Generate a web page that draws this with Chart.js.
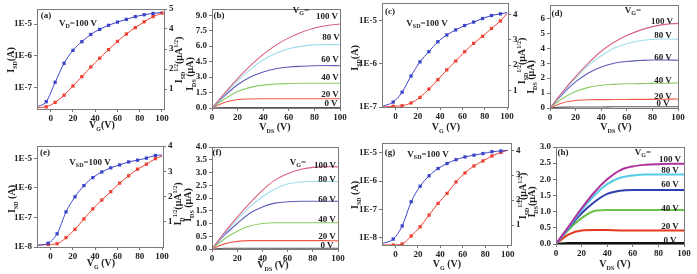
<!DOCTYPE html>
<html>
<head>
<meta charset="utf-8">
<script src="https://cdn.jsdelivr.net/npm/chart.js@4.4.1/dist/chart.umd.min.js"></script>
<style>
  body { margin: 0; width: 697px; height: 274px; background: #fff; position: relative; overflow: hidden; font-family: 'Liberation Serif', 'DejaVu Serif', serif; }
  canvas { position: absolute; }
  .lb { position: absolute; transform: translate(-50%, -50%); font-size: 9px; font-weight: bold; color: #222; white-space: nowrap; line-height: 1; z-index: 5; }
  .lb.rot { transform: translate(-50%, -50%) rotate(-90deg); }
  .lb.ttl { font-size: 10px; }
  .lb sub, .lb sup { font-size: 6px; line-height: 0; }
</style>
</head>
<body>
<canvas id="pa"></canvas>
<canvas id="pb"></canvas>
<canvas id="pc"></canvas>
<canvas id="pd"></canvas>
<canvas id="pe"></canvas>
<canvas id="pf"></canvas>
<canvas id="pg"></canvas>
<canvas id="ph"></canvas>

<!-- (a) -->
<div class="lb" style="left:46px;top:15px">(a)</div>
<div class="lb" style="left:78px;top:23px">V<sub>D</sub>=100 V</div>
<div class="lb ttl rot" style="left:11px;top:60px">I<sub>SD</sub>(A)</div>
<div class="lb ttl rot" style="left:179px;top:60px">I<sub>SD</sub><sup>1/2</sup>(μA<sup>1/2</sup>)</div>
<div class="lb ttl" style="left:102px;top:125px">V<sub>G</sub>(V)</div>
<!-- (b) -->
<div class="lb" style="left:219px;top:15px">(b)</div>
<div class="lb ttl rot" style="left:190px;top:74px">I<sub>DS</sub> (μA)</div>
<div class="lb" style="left:301px;top:10px">V<sub>G</sub>=</div>
<div class="lb" style="left:327px;top:16px">100 V</div>
<div class="lb" style="left:331px;top:37px">80 V</div>
<div class="lb" style="left:330px;top:59px">60 V</div>
<div class="lb" style="left:330px;top:77px">40 V</div>
<div class="lb" style="left:330px;top:94px">20 V</div>
<div class="lb" style="left:331px;top:103px">0 V</div>
<div class="lb ttl" style="left:275px;top:127px">V<sub>DS</sub> (V)</div>
<!-- (c) -->
<div class="lb" style="left:390px;top:11px">(c)</div>
<div class="lb" style="left:427px;top:23px">V<sub>SD</sub>=100 V</div>
<div class="lb ttl rot" style="left:355px;top:58px">I<sub>SD</sub>(A)</div>
<div class="lb ttl rot" style="left:522px;top:61px">I<sub>SD</sub><sup>1/2</sup>(μA<sup>1/2</sup>)</div>
<div class="lb ttl" style="left:446px;top:127px">V<sub>G</sub> (V)</div>
<!-- (d) -->
<div class="lb" style="left:557px;top:13px">(d)</div>
<div class="lb ttl rot" style="left:531px;top:77px">I<sub>DS</sub> (μA)</div>
<div class="lb" style="left:633px;top:10px">V<sub>G</sub>=</div>
<div class="lb" style="left:662px;top:21px">100 V</div>
<div class="lb" style="left:663px;top:35px">80 V</div>
<div class="lb" style="left:663px;top:57px">60 V</div>
<div class="lb" style="left:663px;top:80px">40 V</div>
<div class="lb" style="left:663px;top:96px">20 V</div>
<div class="lb" style="left:663px;top:103px">0 V</div>
<div class="lb ttl" style="left:616px;top:127px">V<sub>DS</sub> (V)</div>
<!-- (e) -->
<div class="lb" style="left:45px;top:152px">(e)</div>
<div class="lb" style="left:90px;top:162px">V<sub>SD</sub>=100 V</div>
<div class="lb ttl rot" style="left:12px;top:199px">I<sub>SD</sub> (A)</div>
<div class="lb ttl rot" style="left:178px;top:204px">I<sub>D</sub><sup>1/2</sup>(μA<sup>1/2</sup>)</div>
<div class="lb ttl" style="left:101px;top:263px">V<sub>G</sub> (V)</div>
<!-- (f) -->
<div class="lb" style="left:217px;top:152px">(f)</div>
<div class="lb ttl rot" style="left:188px;top:205px">I<sub>DS</sub> (μA)</div>
<div class="lb" style="left:298px;top:162px">V<sub>G</sub>=</div>
<div class="lb" style="left:325px;top:165px">100 V</div>
<div class="lb" style="left:327px;top:179px">80 V</div>
<div class="lb" style="left:327px;top:199px">60 V</div>
<div class="lb" style="left:327px;top:219px">40 V</div>
<div class="lb" style="left:327px;top:236px">20 V</div>
<div class="lb" style="left:327px;top:245px">0 V</div>
<div class="lb ttl" style="left:273px;top:265px">V<sub>DS</sub> (V)</div>
<!-- (g) -->
<div class="lb" style="left:390px;top:152px">(g)</div>
<div class="lb" style="left:428px;top:154px">V<sub>SD</sub>=100 V</div>
<div class="lb ttl rot" style="left:355px;top:195px">I<sub>SD</sub> (A)</div>
<div class="lb ttl rot" style="left:523px;top:196px">I<sub>SD</sub><sup>1/2</sup>(μA<sup>1/2</sup>)</div>
<div class="lb ttl" style="left:447px;top:264px">V<sub>G</sub> (V)</div>
<!-- (h) -->
<div class="lb" style="left:563px;top:152px">(h)</div>
<div class="lb ttl rot" style="left:532px;top:202px">I<sub>DS</sub>(μA)</div>
<div class="lb" style="left:643px;top:152px">V<sub>G</sub>=</div>
<div class="lb" style="left:670px;top:159px">100 V</div>
<div class="lb" style="left:670px;top:170px">80 V</div>
<div class="lb" style="left:670px;top:184px">60 V</div>
<div class="lb" style="left:670px;top:208px">40 V</div>
<div class="lb" style="left:670px;top:226px">20 V</div>
<div class="lb" style="left:670px;top:240px">0 V</div>
<div class="lb ttl" style="left:615px;top:264px">V<sub>DS</sub> (V)</div>

<script>
// ---- transfer curves: gate voltage (V) ----
const vgA = [-12, -4, 4, 12, 20, 28, 36, 44, 52, 60, 68, 76, 84, 92, 100];
const vgC = [-11, -2, 6, 14, 22, 30, 38, 46, 54, 62, 70, 78, 86, 94, 100];

// (a) log current (A) and sqrt current (uA^1/2)
const isdA = [2.6e-8, 3.7e-8, 1.5e-7, 5.9e-7, 1.5e-6, 2.8e-6, 4.7e-6, 6.8e-6, 9.1e-6, 1.15e-5, 1.4e-5, 1.7e-5, 1.95e-5, 2.15e-5, 2.3e-5];
const sqrtA = [0.07, 0.11, 0.33, 0.69, 1.15, 1.62, 2.10, 2.54, 2.97, 3.38, 3.75, 4.07, 4.36, 4.62, 4.80];
// (c)
const isdC = [1.05e-7, 1.3e-7, 2.2e-7, 5.2e-7, 1.1e-6, 1.9e-6, 3.2e-6, 4.6e-6, 6.0e-6, 7.6e-6, 9.1e-6, 1.1e-5, 1.29e-5, 1.41e-5, 1.51e-5];
const sqrtC = [0.34, 0.37, 0.39, 0.50, 0.72, 1.05, 1.42, 1.81, 2.16, 2.53, 2.86, 3.14, 3.45, 3.75, 4.05];
// (e)
const isdE = [1.15e-8, 1.35e-8, 2.8e-8, 1.55e-7, 5.0e-7, 1.2e-6, 2.24e-6, 3.47e-6, 4.79e-6, 6.03e-6, 7.59e-6, 8.71e-6, 1.02e-5, 1.26e-5, 1.29e-5];
const sqrtE = [0.07, 0.10, 0.13, 0.37, 0.70, 1.11, 1.51, 1.86, 2.19, 2.53, 2.82, 3.08, 3.28, 3.50, 3.60];
// (g)
const isdG = [6.3e-9, 8.9e-9, 2.6e-8, 1.86e-7, 6.6e-7, 1.55e-6, 2.8e-6, 4.2e-6, 5.75e-6, 7.2e-6, 8.3e-6, 9.5e-6, 1.1e-5, 1.17e-5, 1.23e-5];
const sqrtG = [0.20, 0.20, 0.24, 0.56, 0.93, 1.40, 1.87, 2.27, 2.73, 3.09, 3.37, 3.57, 3.77, 3.91, 4.00];

// ---- output curves: drain voltage (V) ----
const vds = [0, 10, 20, 30, 40, 50, 60, 70, 80, 90, 100];
const gateLevels = ['100 V', '80 V', '60 V', '40 V', '20 V', '0 V'];
const outB = [
  [0, 1.45, 2.85, 4.1, 5.2, 6.1, 6.8, 7.35, 7.75, 8.0, 8.15],
  [0, 1.35, 2.65, 3.75, 4.65, 5.3, 5.75, 6.0, 6.12, 6.15, 6.15],
  [0, 1.2, 2.25, 3.0, 3.5, 3.8, 3.97, 4.05, 4.1, 4.12, 4.1],
  [0, 0.9, 1.6, 2.0, 2.22, 2.32, 2.37, 2.4, 2.4, 2.4, 2.4],
  [0, 0.55, 0.82, 0.88, 0.9, 0.9, 0.9, 0.9, 0.9, 0.9, 0.9],
  [0, 0.05, 0.05, 0.05, 0.05, 0.05, 0.05, 0.05, 0.05, 0.05, 0.05]
];
const outD = [
  [0, 1.1, 2.1, 3.0, 3.8, 4.4, 4.85, 5.2, 5.45, 5.6, 5.67],
  [0, 1.05, 2.0, 2.85, 3.5, 4.0, 4.3, 4.5, 4.6, 4.62, 4.6],
  [0, 0.95, 1.75, 2.35, 2.75, 3.0, 3.12, 3.18, 3.22, 3.22, 3.2],
  [0, 0.65, 1.1, 1.38, 1.52, 1.58, 1.62, 1.63, 1.65, 1.66, 1.67],
  [0, 0.35, 0.5, 0.55, 0.56, 0.57, 0.57, 0.58, 0.58, 0.59, 0.6],
  [0, 0.06, 0.07, 0.07, 0.07, 0.08, 0.08, 0.08, 0.08, 0.08, 0.08]
];
const outF = [
  [0, 0.65, 1.25, 1.8, 2.3, 2.7, 2.95, 3.12, 3.2, 3.23, 3.22],
  [0, 0.6, 1.15, 1.65, 2.05, 2.35, 2.55, 2.63, 2.65, 2.65, 2.65],
  [0, 0.55, 1.0, 1.4, 1.65, 1.8, 1.85, 1.87, 1.87, 1.87, 1.87],
  [0, 0.4, 0.7, 0.9, 1.0, 1.03, 1.03, 1.03, 1.03, 1.03, 1.03],
  [0, 0.2, 0.3, 0.33, 0.33, 0.33, 0.33, 0.33, 0.33, 0.33, 0.32],
  [0, 0.03, 0.03, 0.03, 0.03, 0.03, 0.03, 0.03, 0.03, 0.03, 0.03]
];
const outH = [
  [0, 0.55, 1.1, 1.6, 2.0, 2.28, 2.4, 2.45, 2.47, 2.48, 2.48],
  [0, 0.52, 1.05, 1.5, 1.85, 2.05, 2.12, 2.15, 2.15, 2.15, 2.15],
  [0, 0.5, 0.95, 1.3, 1.55, 1.65, 1.67, 1.67, 1.67, 1.67, 1.67],
  [0, 0.45, 0.8, 1.02, 1.05, 1.05, 1.05, 1.05, 1.05, 1.05, 1.05],
  [0, 0.3, 0.42, 0.43, 0.43, 0.42, 0.42, 0.42, 0.42, 0.42, 0.42],
  [0, 0.03, 0.03, 0.03, 0.03, 0.03, 0.03, 0.03, 0.03, 0.03, 0.03]
];

// tick values
const xTicksVg = [0, 20, 40, 60, 80, 100];
const xTicksVds = [0, 20, 40, 60, 80, 100];
const yTicksB = [0, 1.5, 3.0, 4.5, 6.0, 7.5, 9.0];
const yTicksD = [0, 1, 2, 3, 4, 5, 6];
const yTicksF = [0, 0.5, 1.0, 1.5, 2.0, 2.5, 3.0, 3.5, 4.0];
const yTicksH = [0, 0.5, 1.0, 1.5, 2.0, 2.5, 3.0];

const BLUE = '#3c44c8';
const RED = '#ec4234';
const softColors = ['#d9607e', '#9fdcec', '#5c5cb8', '#8ccc66', '#ee5a4a', '#555555'];
const hardColors = ['#b0329e', '#56cde6', '#2f3fb0', '#6cc24a', '#e5391f', '#111111'];

const PAD_L = 36, PAD_T = 8, PAD_B = 18, PAD_R = 14;
const FONT = { family: "'Liberation Serif', serif", size: 9, weight: 'bold' };

const framePlugin = {
  id: 'frame',
  afterDraw(chart) {
    const a = chart.chartArea, ctx = chart.ctx;
    ctx.save();
    ctx.strokeStyle = '#7a7a7a';
    ctx.lineWidth = 1;
    ctx.strokeRect(Math.round(a.left) + 0.5, Math.round(a.top) + 0.5, Math.round(a.right - a.left), Math.round(a.bottom - a.top));
    ctx.restore();
  }
};

function ticksAt(list) {
  return s => { s.ticks = list.map(v => ({ value: v })); };
}

function axisBase(extra) {
  return Object.assign({
    grid: { drawOnChartArea: false, tickLength: 3, color: '#777' },
    border: { color: '#7a7a7a' },
  }, extra);
}

function xAxis(min, max, list) {
  return axisBase({
    type: 'linear', position: 'bottom', min: min, max: max,
    afterBuildTicks: ticksAt(list),
    afterFit: s => { s.height = PAD_B; },
    ticks: { font: FONT, color: '#222', padding: 1, maxRotation: 0, autoSkip: false }
  });
}

function yLinear(min, max, list, digits, pos) {
  return axisBase({
    type: 'linear', position: pos || 'left', min: min, max: max,
    afterBuildTicks: ticksAt(list),
    afterFit: s => { s.width = pos === 'right' ? PAD_R : PAD_L; },
    ticks: { font: FONT, color: '#222', padding: 2, autoSkip: false, callback: v => v.toFixed(digits) }
  });
}

function yLog(lo, hi, list) {
  return axisBase({
    type: 'logarithmic', position: 'left', min: Math.pow(10, lo), max: Math.pow(10, hi),
    afterBuildTicks: ticksAt(list),
    afterFit: s => { s.width = PAD_L; },
    ticks: { font: FONT, color: '#222', padding: 2, autoSkip: false,
      callback: v => '1E' + Math.round(Math.log10(v)) }
  });
}

function makePanel(id, rect, hasRight, datasets, scales) {
  const cv = document.getElementById(id);
  const w = rect[2] - rect[0] + PAD_L + PAD_R;
  const h = rect[3] - rect[1] + PAD_T + PAD_B;
  cv.width = w; cv.height = h;
  cv.style.width = w + 'px'; cv.style.height = h + 'px';
  cv.style.left = (rect[0] - PAD_L) + 'px';
  cv.style.top = (rect[1] - PAD_T) + 'px';
  new Chart(cv, {
    type: 'line',
    data: { datasets: datasets },
    options: {
      responsive: false,
      animation: false,
      devicePixelRatio: 1,
      layout: { padding: { left: 0, top: PAD_T, bottom: 0, right: hasRight ? 0 : PAD_R } },
      plugins: { legend: { display: false }, tooltip: { enabled: false } },
      scales: scales
    },
    plugins: [framePlugin]
  });
}

function pts(xs, ys) {
  return xs.map((x, i) => ({ x: x, y: ys[i] }));
}

function transferSets(xs, logI, sqrtI, redEndMarker) {
  const n = xs.length;
  const blueR = xs.map((x, i) => (i === 0 || i === n - 1) ? 0 : 2.3);
  const redR = xs.map((x, i) => (i === 0 || (!redEndMarker && i === n - 1)) ? 0 : 2.3);
  return [
    { data: pts(xs, logI), yAxisID: 'y', borderColor: BLUE, backgroundColor: BLUE, borderWidth: 1,
      pointStyle: 'rect', pointRadius: blueR, pointBorderWidth: 0, cubicInterpolationMode: 'monotone' },
    { data: pts(xs, sqrtI), yAxisID: 'y2', borderColor: RED, backgroundColor: RED, borderWidth: 1,
      pointStyle: 'rect', pointRadius: redR, pointBorderWidth: 0, cubicInterpolationMode: 'monotone' }
  ];
}

function outputSets(series, colors, width) {
  return series.map((ys, k) => ({
    label: gateLevels[k], data: pts(vds, ys), borderColor: colors[k], borderWidth: width,
    pointRadius: 0, cubicInterpolationMode: 'monotone'
  }));
}

// top row
makePanel('pa', [37, 9, 164, 109], true, transferSets(vgA, isdA, sqrtA, true), {
  x: xAxis(-12.3, 101.8, xTicksVg),
  y: yLog(-7.66, -4.53, [1e-7, 1e-6, 1e-5]),
  y2: yLinear(0, 5, [1, 2, 3, 4, 5], 0, 'right')
});
makePanel('pb', [212, 9, 340, 108], false, outputSets(outB, softColors, 1.1), {
  x: xAxis(0, 100, xTicksVds),
  y: yLinear(0, 9.6, yTicksB, 1)
});
makePanel('pc', [382, 3, 508, 107], true, transferSets(vgC, isdC, sqrtC, false), {
  x: xAxis(-12, 100.8, xTicksVg),
  y: yLog(-7, -4.6, [1e-7, 1e-6, 1e-5]),
  y2: yLinear(0.34, 4.46, [1, 2, 3, 4], 0, 'right')
});
makePanel('pd', [550, 5, 678, 108], false, outputSets(outD, softColors, 1.1), {
  x: xAxis(0, 100, xTicksVds),
  y: yLinear(0, 6.9, yTicksD, 0)
});
// bottom row
makePanel('pe', [37, 146, 163, 247], true, transferSets(vgC, isdE, sqrtE, false), {
  x: xAxis(-12, 100.8, xTicksVg),
  y: yLog(-8, -4.58, [1e-8, 1e-7, 1e-6, 1e-5]),
  y2: yLinear(0, 4, [1, 2, 3, 4], 0, 'right')
});
makePanel('pf', [212, 147, 338, 249], false, outputSets(outF, softColors, 1.1), {
  x: xAxis(0, 100, xTicksVds),
  y: yLinear(0, 4, yTicksF, 1)
});
makePanel('pg', [382, 143, 511, 245], true, transferSets(vgC, isdG, sqrtG, false), {
  x: xAxis(-12, 103, xTicksVg),
  y: yLog(-8.26, -4.65, [1e-8, 1e-7, 1e-6, 1e-5]),
  y2: yLinear(0.2, 4.29, [1, 2, 3, 4], 0, 'right')
});
makePanel('ph', [556, 147, 684, 244], false, outputSets(outH, hardColors, 2), {
  x: xAxis(0, 100, xTicksVds),
  y: yLinear(0, 3, yTicksH, 1)
});
</script>
</body>
</html>
